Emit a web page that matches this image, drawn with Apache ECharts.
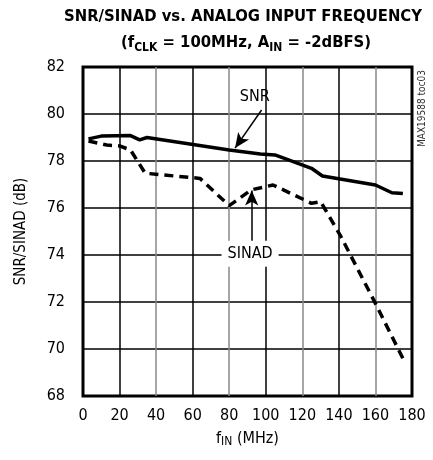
<!DOCTYPE html>
<html>
<head>
<meta charset="utf-8">
<script src="https://cdn.jsdelivr.net/npm/echarts@6/dist/echarts.min.js"></script>
<style>
  html, body { margin: 0; padding: 0; background: #fff; }
  #chart { width: 433px; height: 460px; }
</style>
</head>
<body>
<div id="chart"></div>
<script>
// data
const snrFreq = [3, 10, 26, 31, 35, 80, 97, 105, 125, 131, 160, 169, 175];
const snrVal = [78.94, 79.06, 79.08, 78.9, 79.0, 78.47, 78.3, 78.26, 77.69, 77.36, 76.98, 76.65, 76.62];
const sinadFreq = [3, 13, 20, 26, 34, 64, 80, 92, 104, 125, 130, 141, 160, 175];
const sinadVal = [78.85, 78.68, 78.64, 78.47, 77.48, 77.26, 76.1, 76.77, 76.98, 76.2, 76.27, 74.8, 71.94, 69.6];

// annotation anchors (data coords)
const snrLabelAt = [94, 80.72];
const snrArrow = [[97.7, 80.17], [83.2, 78.55]];
const sinadLabelAt = [91.4, 74.05];
const sinadArrow = [[92.3, 74.55], [92.3, 76.75]];

const FONT = "'Liberation Sans Narrow', 'Arial Narrow', 'DejaVu Sans Condensed', sans-serif";

const zip = (xs, ys) => xs.map((x, i) => [x, ys[i]]);

const chart = echarts.init(document.getElementById("chart"));

chart.setOption({
    animation: false,
    graphic: [
        {
            type: "text",
            x: 243,
            y: 8,
            style: {
                text: "SNR/SINAD vs. ANALOG INPUT FREQUENCY",
                font: "bold 16.5px " + FONT,
                fill: "#000",
                textAlign: "center",
            },
        },
        {
            type: "text",
            x: 246,
            y: 32,
            style: {
                text: "{b|(f}{s|CLK}{b| = 100MHz, A}{s|IN}{b| = -2dBFS)}",
                textAlign: "center",
                rich: {
                    b: { fontFamily: FONT, fontWeight: "bold", fontSize: 16.5, fill: "#000", lineHeight: 22 },
                    s: { fontFamily: FONT, fontWeight: "bold", fontSize: 12, fill: "#000", lineHeight: 22, verticalAlign: "bottom", padding: [5, 0, 0, 0] },
                },
            },
        },
        {
            type: "text",
            left: 417,
            top: 70,
            rotation: Math.PI / 2,
            style: { text: "MAX19588 toc03", font: "10px " + FONT, fill: "#333" },
        },
    ],
    grid: {
        left: 83,
        right: 21,
        top: 67,
        bottom: 64,
        show: true,
        borderColor: "#000",
        borderWidth: 3,
        backgroundColor: "transparent",
    },
    xAxis: {
        type: "value",
        min: 0,
        max: 180,
        interval: 20,
        name: "{t|f}{s|IN}{t| (MHz)}",
        nameLocation: "middle",
        nameGap: 34,
        nameTextStyle: {
            rich: {
                t: { fontFamily: FONT, fontSize: 16, color: "#000" },
                s: { fontFamily: FONT, fontSize: 12, color: "#000", verticalAlign: "bottom", padding: [6, 0, 0, 0] },
            },
        },
        axisLine: { show: false },
        axisTick: { show: false },
        axisLabel: { fontFamily: FONT, fontSize: 16, color: "#000", margin: 12 },
        splitLine: {
            show: true,
            showMinLine: false,
            showMaxLine: false,
            lineStyle: { color: ["#000", "#888"], width: 1.5 },
        },
    },
    yAxis: {
        type: "value",
        min: 68,
        max: 82,
        interval: 2,
        name: "SNR/SINAD (dB)",
        nameLocation: "middle",
        nameGap: 54,
        nameTextStyle: { fontFamily: FONT, fontSize: 15, color: "#000" },
        axisLine: { show: false },
        axisTick: { show: false },
        axisLabel: { fontFamily: FONT, fontSize: 16, color: "#000", margin: 18 },
        splitLine: { show: true, showMinLine: false, showMaxLine: false, lineStyle: { color: "#000", width: 1.5 } },
    },
    series: [
        {
            name: "SNR",
            type: "line",
            data: zip(snrFreq, snrVal),
            symbol: "none",
            lineStyle: { color: "#000", width: 3.5 },
            z: 3,
            markPoint: {
                symbol: "rect",
                symbolSize: 0,
                data: [
                    {
                        coord: snrLabelAt,
                        label: { show: true, position: "inside", formatter: "SNR", fontFamily: FONT, fontSize: 16, color: "#000" },
                    },
                ],
            },
            markLine: {
                silent: true,
                symbol: ["none", "arrow"],
                symbolSize: [10, 15],
                label: { show: false },
                lineStyle: { color: "#000", width: 1.5, type: "solid" },
                data: [[{ coord: snrArrow[0] }, { coord: snrArrow[1] }]],
            },
        },
        {
            name: "SINAD",
            type: "line",
            data: zip(sinadFreq, sinadVal),
            symbol: "none",
            lineStyle: { color: "#000", width: 3.5, type: [9, 6] },
            z: 3,
            markPoint: {
                symbol: "rect",
                symbolSize: 0,
                data: [
                    {
                        coord: sinadLabelAt,
                        label: {
                            show: true,
                            position: "inside",
                            formatter: "SINAD",
                            fontFamily: FONT,
                            fontSize: 16,
                            color: "#000",
                            backgroundColor: "#fff",
                            padding: [5, 6],
                        },
                    },
                ],
            },
            markLine: {
                silent: true,
                symbol: ["none", "arrow"],
                symbolSize: [10, 15],
                label: { show: false },
                lineStyle: { color: "#000", width: 1.5, type: "solid" },
                data: [[{ coord: sinadArrow[0] }, { coord: sinadArrow[1] }]],
            },
        },
    ],
});
</script>
</body>
</html>
